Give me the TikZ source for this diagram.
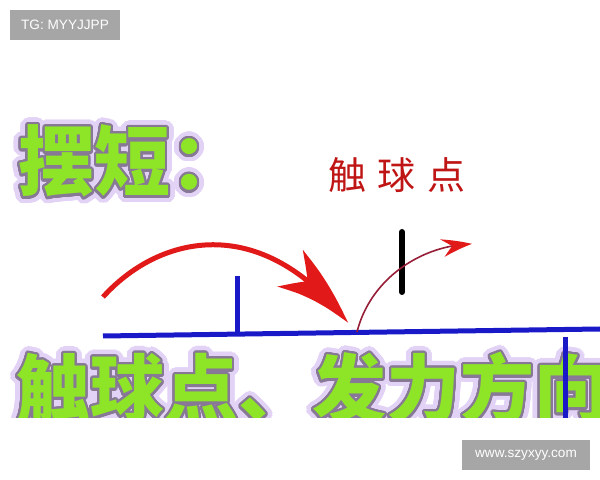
\documentclass[tikz,border=0pt]{standalone}
\usepackage{fontspec}
\setmainfont{Liberation Sans}
\newfontfamily\cjk{Noto Sans CJK SC}
\usepackage{contour}
\usetikzlibrary{arrows.meta}
\usetikzlibrary{bending}
\usetikzlibrary{calc}
\definecolor{lime}{RGB}{142,228,38}
\definecolor{haze}{RGB}{226,210,246}
\definecolor{rim}{RGB}{135,120,150}
\definecolor{ink}{RGB}{25,25,200}
\definecolor{tagbg}{RGB}{166,166,166}
\definecolor{wine}{RGB}{150,30,55}
\definecolor{ballred}{RGB}{225,25,25}
\contournumber{32}
\newcommand{\glowtext}[1]{%
    \rlap{\contourlength{3.5pt}\color{haze}\contour{haze}{#1}}%
    {\contourlength{1.1pt}\color{lime}\contour{rim}{#1}}}

\begin{document}
\begin{tikzpicture}[x=0.5pt,y=-0.5pt,
        tag/.style={fill=tagbg,text=white,inner sep=0,font=\fontsize{6.8}{7}\selectfont},
        big/.style={anchor=base west,inner sep=0,font=\cjk\bfseries\fontsize{37}{37}\selectfont},
        wall/.style={draw=ink,line width=2.5pt}]
    \useasboundingbox (0,0) rectangle (600,480);

    \node[tag,minimum width=55pt,minimum height=15pt] (tg) at (65,25) {TG: MYYJJPP};
    \node[tag,minimum width=64pt,minimum height=15pt] (web) at (526,455) {www.szyxyy.com};

    \node[big,font=\cjk\bfseries\fontsize{38}{38}\selectfont] (title) at (18,190) {\glowtext{摆短：}};
    \node[anchor=base,inner sep=0,text=ballred!85!black,font=\cjk\fontsize{19}{19}\selectfont]
        (hit) at (397,190) {触\hspace{6pt}球\hspace{6pt}点};

    \coordinate (b0) at (103,336);
    \coordinate (b1) at (600,329);
    \coordinate (p0) at (237,276);
    \coordinate (p1) at (237,334);
    \coordinate (q0) at (565,329);
    \coordinate (q1) at (565,430);
    \coordinate (s0) at (103,297);
    \coordinate (s1) at (348,323);
    \coordinate (t0) at (357,332);
    \coordinate (t1) at (472,244);
    \coordinate (r0) at (402,232);
    \coordinate (r1) at (402,292);

    \draw[wall] (b0) -- (b1);
    \draw[wall] (p0) -- (p1);
    \draw[black,line width=3pt,line cap=round] (r0) -- (r1);

    \begin{scope}[>={Stealth[ballred]}]
        \draw[ballred,line width=2.5pt,-{Stealth[length=44pt,width=22pt,inset=13pt,bend]}]
            (s0) .. controls (160,234) and (262,212) .. (s1);
        \draw[wine,line width=0.8pt,-{Stealth[ballred,length=15pt,width=9pt,inset=5pt,bend]}]
            (t0) .. controls (370,280) and (420,245) .. (t1);
    \end{scope}

    \begin{scope}
        \clip (0,338) rectangle (600,418);
        \node[big] (sub) at (16,417) {\glowtext{触球点、发力方向}};
        \draw[wall] (q0) -- (q1);
    \end{scope}
\end{tikzpicture}
\end{document}
